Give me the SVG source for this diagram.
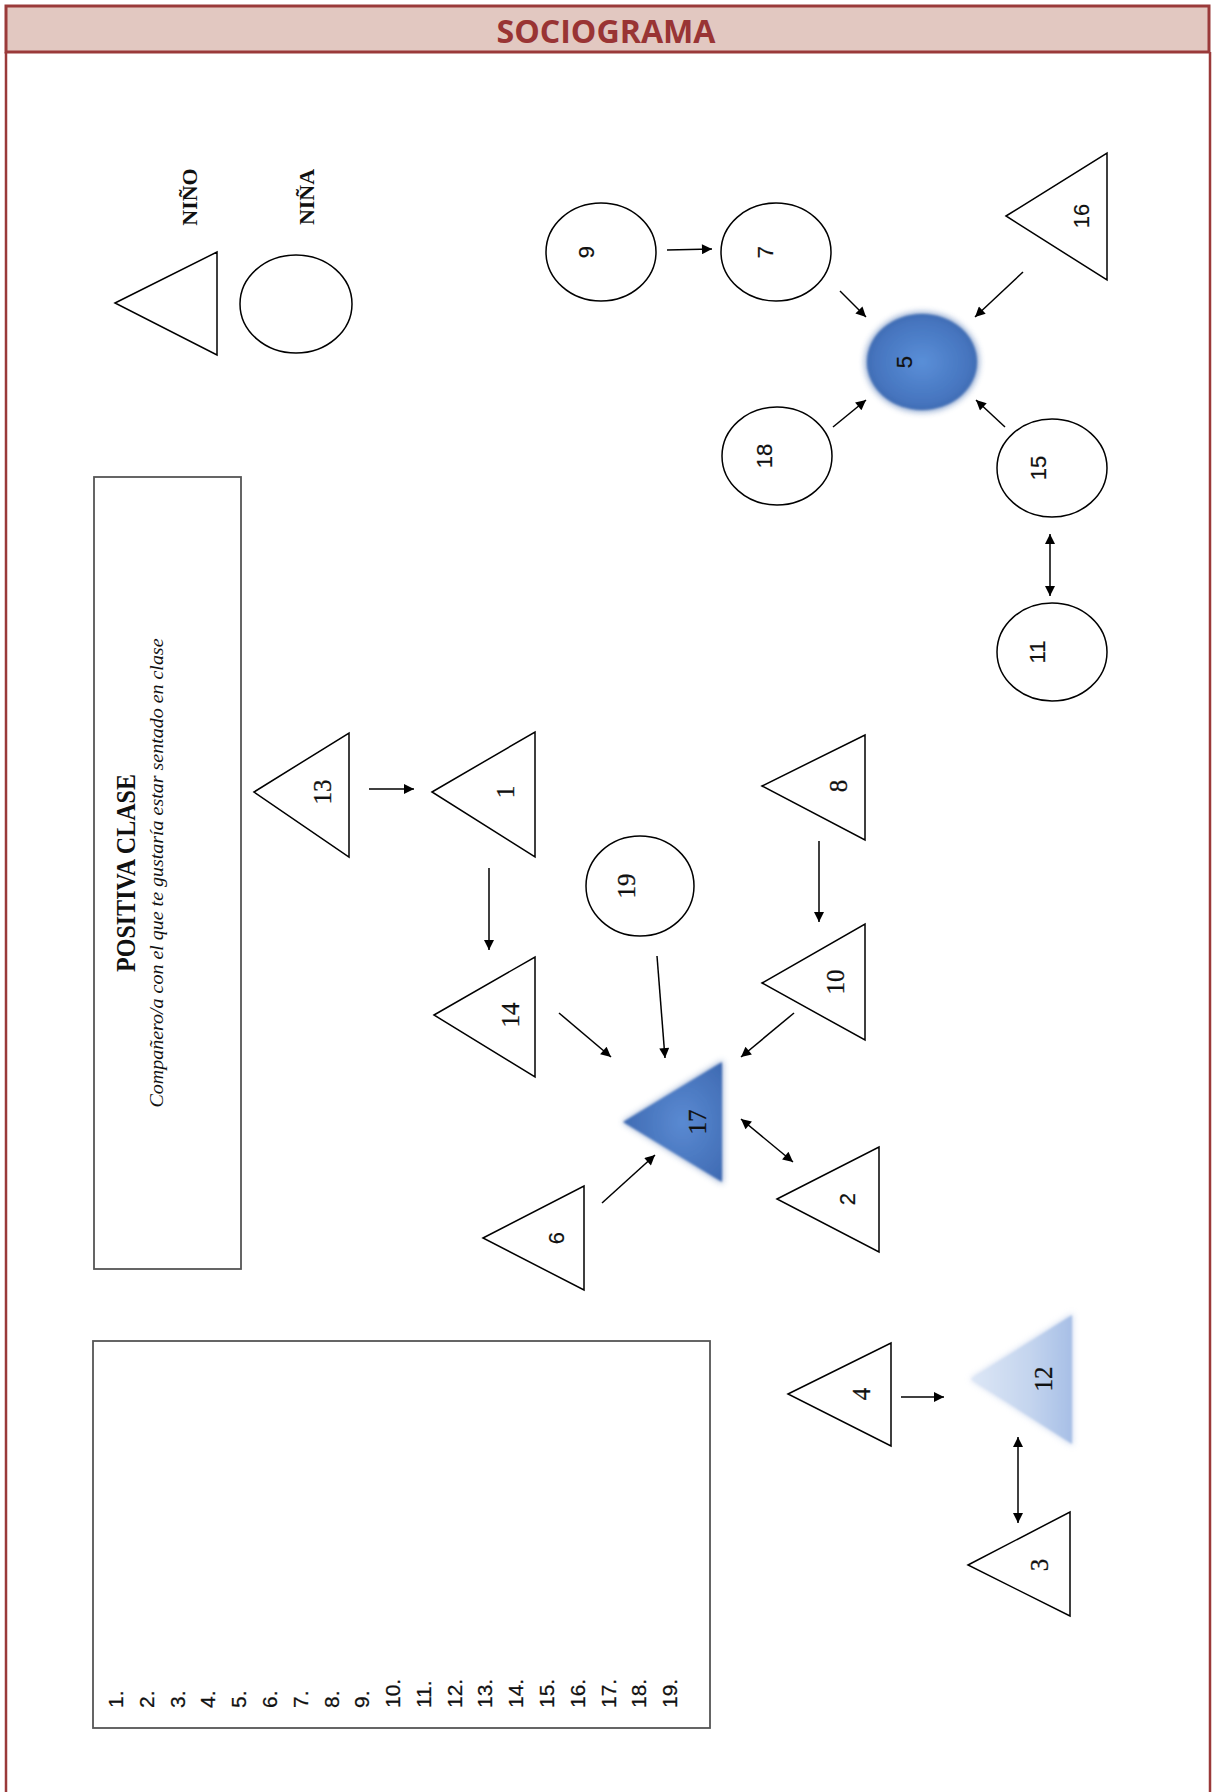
<svg xmlns="http://www.w3.org/2000/svg" width="1212" height="1792" viewBox="0 0 1212 1792">
<style>
.frame{stroke:#9a3a3a;stroke-width:2.5;fill:none}
.shape{fill:#fff;stroke:#000;stroke-width:1.5}
.box{fill:#fff;stroke:#555;stroke-width:1.8}
.cn{stroke:#000;stroke-width:1.5;fill:none}
.ls{font-family:"Liberation Serif",serif;font-size:25px;fill:#111;text-anchor:middle;dominant-baseline:central;stroke:#111;stroke-width:0.3}
.la{font-family:"Liberation Sans",sans-serif;font-size:22px;fill:#111;text-anchor:middle;dominant-baseline:central;stroke:#111;stroke-width:0.2}
.leg{font-family:"Liberation Serif",serif;font-size:22px;font-weight:bold;fill:#111;text-anchor:middle}
.item{font-family:"Liberation Sans",sans-serif;font-size:21px;fill:#111;stroke:#111;stroke-width:0.25}
</style>
<defs>
<marker id="ah" viewBox="0 0 10 10" refX="10" refY="5" markerWidth="12" markerHeight="10" markerUnits="userSpaceOnUse" orient="auto-start-reverse">
<path d="M0,0 L10,5 L0,10 z" fill="#000"/>
</marker>
<radialGradient id="gBlue" cx="0.5" cy="0.5" r="0.6">
<stop offset="0" stop-color="#5a8fd8"/>
<stop offset="0.7" stop-color="#4675bf"/>
<stop offset="1" stop-color="#3a64a8"/>
</radialGradient>
<radialGradient id="gTri17" cx="0.6" cy="0.5" r="0.7">
<stop offset="0" stop-color="#5a8ad2"/>
<stop offset="1" stop-color="#3b66ae"/>
</radialGradient>
<linearGradient id="gTri12" x1="0" y1="0" x2="1" y2="0">
<stop offset="0" stop-color="#dde7f6"/>
<stop offset="0.6" stop-color="#c3d4ee"/>
<stop offset="1" stop-color="#a7bfe6"/>
</linearGradient>
<filter id="soft" x="-20%" y="-20%" width="140%" height="140%">
<feGaussianBlur stdDeviation="1.2"/>
</filter>
<filter id="glow" x="-30%" y="-30%" width="160%" height="160%">
<feGaussianBlur stdDeviation="3"/>
</filter>
</defs>

<g id="frame">
<rect x="6" y="6" width="1203" height="46" fill="#e2c8c1" stroke="#9a3a3a" stroke-width="3"/>
<line class="frame" x1="6" y1="52" x2="6" y2="1792"/>
<line class="frame" x1="1210" y1="52" x2="1210" y2="1792"/>
<text x="606" y="43" font-family="'Open Sans',sans-serif" font-weight="bold" font-size="32" fill="#993434" text-anchor="middle" textLength="219" lengthAdjust="spacingAndGlyphs">SOCIOGRAMA</text>
</g>

<g id="legend">
<polygon class="shape" points="115,303 217,252 217,355"/>
<ellipse class="shape" cx="296" cy="304" rx="56" ry="49"/>
<text class="leg" transform="translate(197 197) rotate(-90)">NIÑO</text>
<text class="leg" transform="translate(314 197) rotate(-90)">NIÑA</text>
</g>

<g id="title-box">
<rect class="box" x="94" y="477" width="147" height="792"/>
<text transform="translate(135 873) rotate(-90)" font-family="'Liberation Serif',serif" font-weight="bold" font-size="27" fill="#111" text-anchor="middle" textLength="198" lengthAdjust="spacingAndGlyphs">POSITIVA CLASE</text>
<text transform="translate(163 873) rotate(-90)" font-family="'Liberation Serif',serif" font-style="italic" font-size="19" fill="#111" text-anchor="middle" textLength="469" lengthAdjust="spacingAndGlyphs">Compañero/a con el que te gustaría estar sentado en clase</text>
</g>

<g id="list-box">
<rect class="box" x="93" y="1341" width="617" height="387"/>
<g class="item">
<text transform="translate(123 1708) rotate(-90)">1.</text>
<text transform="translate(154 1708) rotate(-90)">2.</text>
<text transform="translate(185 1708) rotate(-90)">3.</text>
<text transform="translate(215 1708) rotate(-90)">4.</text>
<text transform="translate(246 1708) rotate(-90)">5.</text>
<text transform="translate(277 1708) rotate(-90)">6.</text>
<text transform="translate(308 1708) rotate(-90)">7.</text>
<text transform="translate(339 1708) rotate(-90)">8.</text>
<text transform="translate(369 1708) rotate(-90)">9.</text>
<text transform="translate(400 1708) rotate(-90)">10.</text>
<text transform="translate(431 1708) rotate(-90)">11.</text>
<text transform="translate(462 1708) rotate(-90)">12.</text>
<text transform="translate(492 1708) rotate(-90)">13.</text>
<text transform="translate(523 1708) rotate(-90)">14.</text>
<text transform="translate(554 1708) rotate(-90)">15.</text>
<text transform="translate(585 1708) rotate(-90)">16.</text>
<text transform="translate(616 1708) rotate(-90)">17.</text>
<text transform="translate(646 1708) rotate(-90)">18.</text>
<text transform="translate(677 1708) rotate(-90)">19.</text>
</g>
</g>

<g id="connectors">
<line class="cn" x1="667" y1="250" x2="712" y2="249" marker-end="url(#ah)"/>
<line class="cn" x1="840" y1="291" x2="866" y2="317" marker-end="url(#ah)"/>
<line class="cn" x1="1023" y1="272" x2="975" y2="317" marker-end="url(#ah)"/>
<line class="cn" x1="833" y1="427" x2="866" y2="400" marker-end="url(#ah)"/>
<line class="cn" x1="1005" y1="427" x2="976" y2="400" marker-end="url(#ah)"/>
<line class="cn" x1="1050" y1="534" x2="1050" y2="596" marker-start="url(#ah)" marker-end="url(#ah)"/>
<line class="cn" x1="369" y1="789" x2="414" y2="789" marker-end="url(#ah)"/>
<line class="cn" x1="489" y1="868" x2="489" y2="950" marker-end="url(#ah)"/>
<line class="cn" x1="819" y1="841" x2="819" y2="922" marker-end="url(#ah)"/>
<line class="cn" x1="559" y1="1013" x2="611" y2="1057" marker-end="url(#ah)"/>
<line class="cn" x1="657" y1="956" x2="665" y2="1058" marker-end="url(#ah)"/>
<line class="cn" x1="794" y1="1013" x2="741" y2="1057" marker-end="url(#ah)"/>
<line class="cn" x1="741" y1="1119" x2="793" y2="1162" marker-start="url(#ah)" marker-end="url(#ah)"/>
<line class="cn" x1="602" y1="1203" x2="655" y2="1155" marker-end="url(#ah)"/>
<line class="cn" x1="901" y1="1397" x2="944" y2="1397" marker-end="url(#ah)"/>
<line class="cn" x1="1018" y1="1437" x2="1018" y2="1523" marker-start="url(#ah)" marker-end="url(#ah)"/>
</g>

<g id="n9"><ellipse class="shape" cx="601" cy="252" rx="55" ry="49"/><text class="la" transform="translate(586 252) rotate(-90)">9</text></g>
<g id="n7"><ellipse class="shape" cx="776" cy="252" rx="55" ry="49"/><text class="la" transform="translate(765 252) rotate(-90)">7</text></g>
<g id="n16"><polygon class="shape" points="1006,216 1107,153 1107,280"/><text class="la" transform="translate(1081 216) rotate(-90)">16</text></g>
<g id="n5"><ellipse cx="922" cy="362" rx="57" ry="50" fill="#3c68ad" opacity="0.6" filter="url(#glow)"/><ellipse cx="922" cy="362" rx="55" ry="48" fill="url(#gBlue)" filter="url(#soft)"/><text class="la" transform="translate(904 362) rotate(-90)">5</text></g>
<g id="n18"><ellipse class="shape" cx="777" cy="456" rx="55" ry="49"/><text class="la" transform="translate(764 456) rotate(-90)">18</text></g>
<g id="n15"><ellipse class="shape" cx="1052" cy="468" rx="55" ry="49"/><text class="la" transform="translate(1038 468) rotate(-90)">15</text></g>
<g id="n11"><ellipse class="shape" cx="1052" cy="652" rx="55" ry="49"/><text class="la" transform="translate(1037 652) rotate(-90)">11</text></g>

<g id="n13"><polygon class="shape" points="254,792 349,733 349,857"/><text class="ls" transform="translate(322 792) rotate(-90)">13</text></g>
<g id="n1"><polygon class="shape" points="432,792 535,732 535,857"/><text class="ls" transform="translate(505 792) rotate(-90)">1</text></g>
<g id="n19"><ellipse class="shape" cx="640" cy="886" rx="54" ry="50"/><text class="ls" transform="translate(626 886) rotate(-90)">19</text></g>
<g id="n8"><polygon class="shape" points="762,786 865,735 865,840"/><text class="ls" transform="translate(838 786) rotate(-90)">8</text></g>
<g id="n10"><polygon class="shape" points="762,983 865,924 865,1040"/><text class="ls" transform="translate(835 982) rotate(-90)">10</text></g>
<g id="n14"><polygon class="shape" points="434,1015 535,957 535,1077"/><text class="ls" transform="translate(510 1015) rotate(-90)">14</text></g>
<g id="n17"><polygon points="622,1122 723,1060 723,1184" fill="#3a64a8" opacity="0.5" filter="url(#glow)"/><polygon points="623,1122 722,1062 722,1182" fill="url(#gTri17)" filter="url(#soft)"/><text class="ls" transform="translate(697 1122) rotate(-90)">17</text></g>
<g id="n2"><polygon class="shape" points="777,1199 879,1147 879,1252"/><text class="la" transform="translate(847 1199) rotate(-90)">2</text></g>
<g id="n6"><polygon class="shape" points="483,1238 584,1186 584,1290"/><text class="la" transform="translate(556 1238) rotate(-90)">6</text></g>

<g id="n4"><polygon class="shape" points="788,1394 891,1343 891,1446"/><text class="ls" transform="translate(861 1394) rotate(-90)">4</text></g>
<g id="n12"><polygon points="970,1379 1073,1313 1073,1446" fill="#9fb6e0" opacity="0.5" filter="url(#glow)"/><polygon points="971,1379 1072,1315 1072,1444" fill="url(#gTri12)" filter="url(#soft)"/><text class="ls" transform="translate(1043 1379) rotate(-90)">12</text></g>
<g id="n3"><polygon class="shape" points="968,1565 1070,1512 1070,1616"/><text class="ls" transform="translate(1039 1565) rotate(-90)">3</text></g>
</svg>
